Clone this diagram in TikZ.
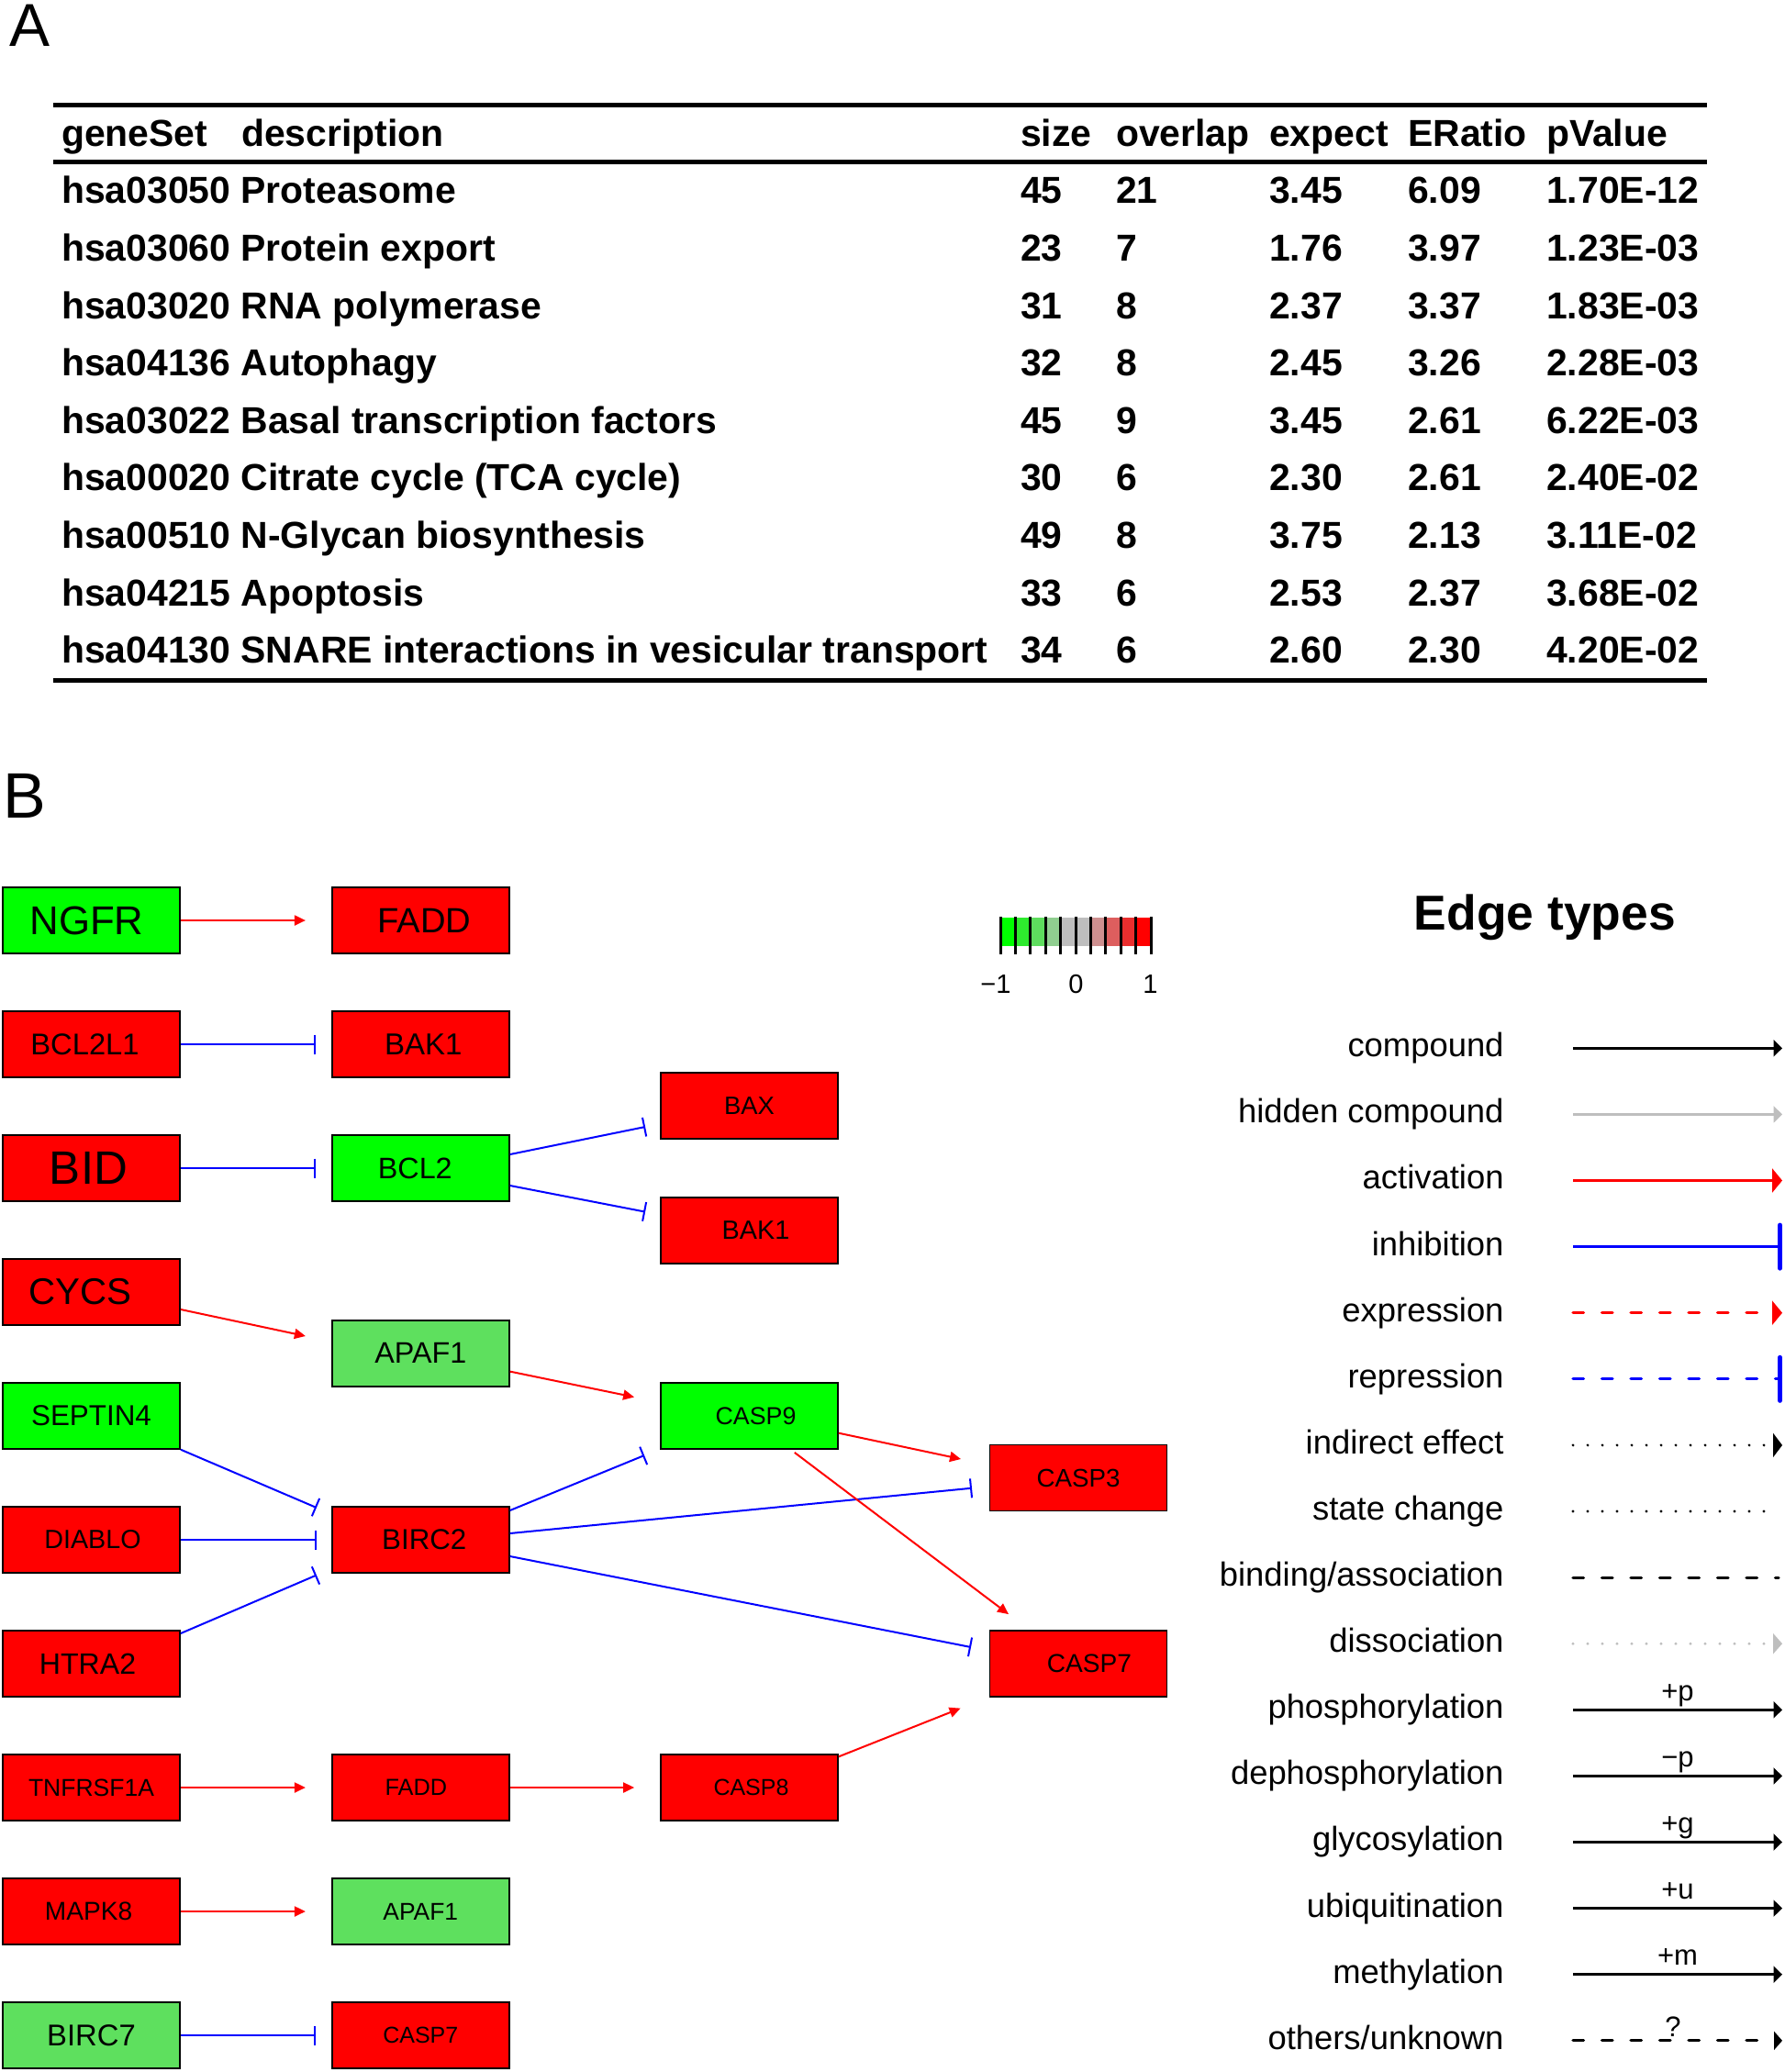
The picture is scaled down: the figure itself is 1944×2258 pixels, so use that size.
\documentclass[tikz,border=0pt]{standalone}
\usepackage{fontspec}
\setmainfont{Liberation Sans}
\usetikzlibrary{arrows.meta,calc}
\definecolor{kred}{RGB}{255,0,0}
\definecolor{kgreen}{RGB}{0,255,0}
\definecolor{klgreen}{RGB}{94,224,94}
\definecolor{kblue}{RGB}{0,0,255}
\definecolor{kgray}{RGB}{190,190,190}
\definecolor{cb0}{RGB}{0,255,0}
\definecolor{cb1}{RGB}{46,234,46}
\definecolor{cb2}{RGB}{94,221,94}
\definecolor{cb3}{RGB}{144,206,144}
\definecolor{cb4}{RGB}{190,190,190}
\definecolor{cb5}{RGB}{190,190,190}
\definecolor{cb6}{RGB}{206,144,144}
\definecolor{cb7}{RGB}{221,94,94}
\definecolor{cb8}{RGB}{234,46,46}
\definecolor{cb9}{RGB}{255,0,0}
\tikzset{
  fs/.style={font=\fontsize{#1}{#1}\selectfont},
  tb/.style={anchor=base west, inner sep=0pt, font=\fontsize{40.9}{49}\selectfont\bfseries},
  rule/.style={line width=4.6pt},
  gene/.style={draw=black, line width=1.8pt, minimum width=193pt, minimum height=72pt, inner sep=0pt, text=black},
  gup/.style={gene, fill=kred},
  gdn/.style={gene, fill=kgreen},
  gdl/.style={gene, fill=klgreen},
  act/.style={draw=kred, line width=2pt, -{Triangle[length=12pt,width=11pt]}},
  inh/.style={draw=kblue, line width=2pt, -{Bar[width=21pt]}},
  leglab/.style={anchor=base east, inner sep=0pt, font=\fontsize{36.4}{44}\selectfont},
  anno/.style={anchor=base, inner sep=0pt, font=\fontsize{31}{36}\selectfont},
  lbase/.style={line width=3.2pt},
  dashes/.style={line cap=round, dash pattern=on 11.5pt off 20pt},
  dots/.style={line cap=round, dash pattern=on 0pt off 16pt},
  smalltip/.style={-{Triangle[length=9.5pt,width=18pt]}},
  bigtip/.style={-{Triangle[length=11pt,width=26pt]}},
  bartip/.style={-{Bar[width=47pt,line width=5pt,round]}},
  lcomp/.style={lbase, draw=black, smalltip},
  lhid/.style={lbase, draw=kgray, smalltip},
  lact/.style={lbase, draw=kred, bigtip},
  linh/.style={lbase, draw=kblue, bartip},
  lexp/.style={lbase, draw=kred, dashes, bigtip},
  lrep/.style={lbase, draw=kblue, dashes, bartip},
  lind/.style={lbase, draw=black, dots, -{Triangle[length=10pt,width=26pt]}},
  lstate/.style={lbase, draw=black, dots, shorten >=16pt},
  lbind/.style={lbase, draw=black, dashes, shorten >=4pt},
  ldiss/.style={lbase, draw=kgray, dots, -{Triangle[length=10pt,width=22pt]}},
  lmod/.style={lbase, draw=black, smalltip},
  loth/.style={lbase, draw=black, dashes, -{Triangle[length=9pt,width=20pt]}}
}
% shifted gene label: #1 = twice the horizontal shift
\newcommand\gtxt[2]{\makebox[0pt]{\hspace*{#1}#2}}
\newcommand\trow[7]{%
  \pgfmathsetmacro\ty{221.7+62.65*(#1-1)}%
  \node[tb] (d#1) at (67,\ty) {#2};
  \node[tb] (s#1) at (1112,\ty) {#3};
  \node[tb] (o#1) at (1216,\ty) {#4};
  \node[tb] (e#1) at (1383,\ty) {#5};
  \node[tb] (r#1) at (1534,\ty) {#6};
  \node[tb] (p#1) at (1685,\ty) {#7};
}
\newcommand\legrow[3]{%
  \pgfmathsetmacro\ly{1142.3+72.1*#1}%
  \node[leglab] (lt#1) at (1638.7,\ly+9.4) {#2};
  \coordinate (la#1) at (1714,\ly);
  \coordinate (lb#1) at (1942,\ly);
  \draw[#3] (la#1) -- (lb#1);
}
\begin{document}
\begin{tikzpicture}[x=1pt,y=-1pt]
\useasboundingbox (0,0) rectangle (1944,2258);
\fill[white] (0,0) rectangle (1944,2258);

% ---------- Panel A ----------
\node[anchor=base west, inner sep=0pt, font=\fontsize{66}{72}\selectfont] (labA) at (10,51) {A};
\draw[rule] (57.6,114.3) -- (1859.5,114.3);
\draw[rule] (57.6,176.7) -- (1859.5,176.7);
\draw[rule] (57.6,741.6) -- (1859.5,741.6);
\node[tb] (hg) at (67,159.3) {geneSet};
\node[tb] (hd) at (263,159.3) {description};
\node[tb] (hs) at (1112,159.3) {size};
\node[tb] (ho) at (1216,159.3) {overlap};
\node[tb] (he) at (1383,159.3) {expect};
\node[tb] (hr) at (1534,159.3) {ERatio};
\node[tb] (hp) at (1685,159.3) {pValue};
\trow{1}{hsa03050 Proteasome}{45}{21}{3.45}{6.09}{1.70E-12}
\trow{2}{hsa03060 Protein export}{23}{7}{1.76}{3.97}{1.23E-03}
\trow{3}{hsa03020 RNA polymerase}{31}{8}{2.37}{3.37}{1.83E-03}
\trow{4}{hsa04136 Autophagy}{32}{8}{2.45}{3.26}{2.28E-03}
\trow{5}{hsa03022 Basal transcription factors}{45}{9}{3.45}{2.61}{6.22E-03}
\trow{6}{hsa00020 Citrate cycle (TCA cycle)}{30}{6}{2.30}{2.61}{2.40E-02}
\trow{7}{hsa00510 N-Glycan biosynthesis}{49}{8}{3.75}{2.13}{3.11E-02}
\trow{8}{hsa04215 Apoptosis}{33}{6}{2.53}{2.37}{3.68E-02}
\trow{9}{hsa04130 SNARE interactions in vesicular transport}{34}{6}{2.60}{2.30}{4.20E-02}

% ---------- Panel B ----------
\node[anchor=base west, inner sep=0pt, font=\fontsize{70}{76}\selectfont] (labB) at (3,891.7) {B};

% column 1
\node[gdn, fs=43.8] (NGFR) at (99.5,1003) {\gtxt{-10pt}{NGFR}};
\node[gup, fs=32.7] (BCL2L1) at (99.5,1138) {\gtxt{-14pt}{BCL2L1}};
\node[gup, fs=51] (BID) at (99.5,1273) {\gtxt{-6pt}{BID}};
\node[gup, fs=40.3] (CYCS) at (99.5,1408) {\gtxt{-24pt}{CYCS}};
\node[gdn, fs=31.4] (SEPT) at (99.5,1543) {SEPTIN4};
\node[gup, fs=28.7] (DIABLO) at (99.5,1678) {\gtxt{3pt}{DIABLO}};
\node[gup, fs=32.1] (HTRA2) at (99.5,1813) {\gtxt{-8pt}{HTRA2}};
\node[gup, fs=26.5] (TNF) at (99.5,1948) {TNFRSF1A};
\node[gup, fs=28.1] (MAPK8) at (99.5,2083) {\gtxt{-6pt}{MAPK8}};
\node[gdl, fs=32.8] (BIRC7) at (99.5,2218) {BIRC7};
% column 2
\node[gup, fs=38.2] (FADDa) at (458.3,1003) {\gtxt{8pt}{FADD}};
\node[gup, fs=33] (BAKa) at (458.3,1138) {\gtxt{6pt}{BAK1}};
\node[gdn, fs=32.3] (BCL2) at (458.3,1273) {\gtxt{-12pt}{BCL2}};
\node[gdl, fs=32.3] (APAFa) at (458.3,1474.6) {APAF1};
\node[gup, fs=31.3] (BIRC2) at (458.3,1678) {\gtxt{8pt}{BIRC2}};
\node[gup, fs=25.3] (FADDb) at (458.3,1948) {\gtxt{-10pt}{FADD}};
\node[gdl, fs=26.4] (APAFb) at (458.3,2083) {APAF1};
\node[gup, fs=25] (CASP7b) at (458.3,2218) {CASP7};
% column 3
\node[gup, fs=27.4] (BAX) at (816.5,1205) {BAX};
\node[gup, fs=28.8] (BAKb) at (816.5,1340.6) {\gtxt{14pt}{BAK1}};
\node[gdn, fs=26.8] (CASP9) at (816.5,1543) {\gtxt{14pt}{CASP9}};
\node[gup, fs=25] (CASP8) at (816.5,1948) {\gtxt{4pt}{CASP8}};
% column 4
\node[gup, fs=27.7] (CASP3) at (1175,1610.5) {CASP3};
\node[gup, fs=28.1] (CASP7a) at (1175,1813.3) {\gtxt{24pt}{CASP7}};

% edges
\draw[act] (NGFR.east) -- ($(FADDa.west)+(-28,0)$);
\draw[inh] (BCL2L1.east) -- ($(BAKa.west)+(-17,0)$);
\draw[inh] (BID.east) -- ($(BCL2.west)+(-17,0)$);
\draw[inh] ($(BCL2.east)+(0,-15)$) -- ($(BAX.west)+(-16,23)$);
\draw[inh] ($(BCL2.east)+(0,19)$) -- ($(BAKb.west)+(-16,-20)$);
\draw[act] ($(CYCS.east)+(0,19)$) -- ($(APAFa.west)+(-28,-18.6)$);
\draw[act] ($(APAFa.east)+(0,20)$) -- ($(CASP9.west)+(-28,-20.5)$);
\draw[inh] ($(SEPT.east)+(0,36.7)$) -- ($(BIRC2.west)+(-16,-35)$);
\draw[inh] (DIABLO.east) -- ($(BIRC2.west)+(-16,0)$);
\draw[inh] ($(HTRA2.east)+(0,-33)$) -- ($(BIRC2.west)+(-16,38.5)$);
\draw[inh] ($(BIRC2.east)+(0,-32)$) -- ($(CASP9.west)+(-17,43)$);
\draw[inh] ($(BIRC2.east)+(0,-7)$) -- ($(CASP3.west)+(-18.6,11.2)$);
\draw[inh] ($(BIRC2.east)+(0,18)$) -- ($(CASP7a.west)+(-19.6,-18.3)$);
\draw[act] ($(CASP9.east)+(0,18.7)$) -- ($(CASP3.west)+(-30.6,-20.5)$);
\draw[act] ($(CASP9.south)+(49.3,3)$) -- ($(CASP7a.north west)+(21.4,-17.3)$);
\draw[act] (TNF.east) -- ($(FADDb.west)+(-28,0)$);
\draw[act] (FADDb.east) -- ($(CASP8.west)+(-28,0)$);
\draw[act] ($(CASP8.east)+(0,-33.7)$) -- ($(CASP7a.south west)+(-31,11.4)$);
\draw[act] (MAPK8.east) -- ($(APAFb.west)+(-28,0)$);
\draw[inh] (BIRC7.east) -- ($(CASP7b.west)+(-17,0)$);

% colour bar
\foreach \k in {0,...,9} {
  \fill[cb\k] (1090+16.4*\k,1000) rectangle (1106.4+16.4*\k,1031);
}
\foreach \k in {0,...,10} {
  \draw[line width=3pt] (1090+16.4*\k,999) -- (1090+16.4*\k,1040);
}
\node[fs=29, inner sep=0pt] (cbm) at (1085,1073) {−1};
\node[fs=29, inner sep=0pt] (cbz) at (1172.5,1073) {0};
\node[fs=29, inner sep=0pt] (cbp) at (1253.4,1073) {1};

% legend
\node[anchor=base, inner sep=0pt, font=\fontsize{53.4}{60}\selectfont\bfseries] (et) at (1683.4,1013) {Edge types};
\legrow{0}{compound}{lcomp}
\legrow{1}{hidden compound}{lhid}
\legrow{2}{activation}{lact}
\legrow{3}{inhibition}{linh}
\legrow{4}{expression}{lexp}
\legrow{5}{repression}{lrep}
\legrow{6}{indirect effect}{lind}
\legrow{7}{state change}{lstate}
\legrow{8}{binding/association}{lbind}
\legrow{9}{dissociation}{ldiss}
\legrow{10}{phosphorylation}{lmod}
\legrow{11}{dephosphorylation}{lmod}
\legrow{12}{glycosylation}{lmod}
\legrow{13}{ubiquitination}{lmod}
\legrow{14}{methylation}{lmod}
\legrow{15}{others/unknown}{loth}
\node[anno] (ap) at (1828,1142.3+72.1*10-10) {+p};
\node[anno] (am) at (1828,1142.3+72.1*11-10) {−p};
\node[anno] (ag) at (1828,1142.3+72.1*12-10) {+g};
\node[anno] (au) at (1828,1142.3+72.1*13-10) {+u};
\node[anno] (amm) at (1828,1142.3+72.1*14-10) {+m};
\node[anno] (aq) at (1823,1142.3+72.1*15-4) {?};
\end{tikzpicture}
\end{document}
